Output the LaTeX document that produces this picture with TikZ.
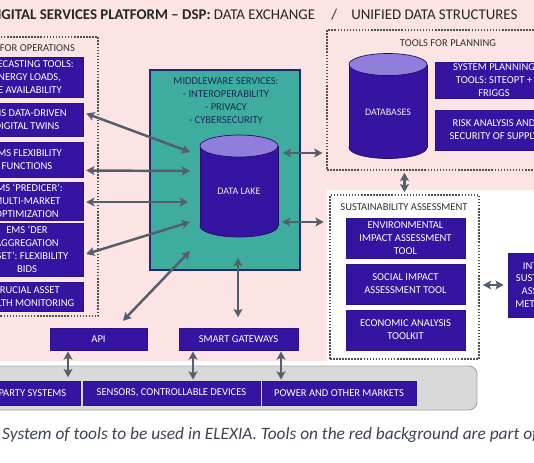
\documentclass[tikz,border=0pt]{standalone}
\usepackage{fontspec}
\setmainfont{Carlito}
\usepackage{tikz}
\usetikzlibrary{positioning,arrows.meta,calc}
\definecolor{boxcol} {RGB}{52,20,160}
\definecolor{cyltop} {RGB}{145,125,220}
\definecolor{cylline}{RGB}{30,15,100}
\definecolor{mwcol}  {RGB}{62,172,158}
\definecolor{mwline} {RGB}{30,40,110}
\definecolor{mwtext} {RGB}{25,45,85}
\definecolor{pinkbg} {RGB}{252,228,228}
\definecolor{arrcol} {RGB}{85,95,105}
\definecolor{dotcol} {RGB}{80,80,80}
\definecolor{bandcol}{RGB}{217,217,217}
\definecolor{captcol}{RGB}{60,68,80}
% cylinder: centre x, top y, bottom y, half width
\newcommand{\storecyl}[4]{%
  \filldraw[fill=boxcol,draw=cylline,line width=0.6pt] (#1,#3) ellipse[x radius=#4,y radius=11];
  \fill[boxcol] ({#1-#4},#2) rectangle ({#1+#4},#3);
  \draw[cylline,line width=0.6pt] ({#1-#4},#2) -- ({#1-#4},#3) ({#1+#4},#2) -- ({#1+#4},#3);
  \filldraw[fill=cyltop,draw=cylline,line width=0.6pt] (#1,#2) ellipse[x radius=#4,y radius=11];
}

\begin{document}
\begin{tikzpicture}[x=0.03cm,y=-0.03cm,
  tbox/.style={rectangle,fill=boxcol,draw=boxcol!85!black,line width=0.4pt,
               text=white,font=\fontsize{9}{11}\selectfont,align=center,inner sep=1pt},
  grp/.style={rectangle,draw=dotcol,line width=1.7pt,dash pattern=on 1.3pt off 1.3pt,
              inner sep=0pt},
  glbl/.style={font=\fontsize{9}{11}\selectfont,text=black!80},
  cyllbl/.style={font=\fontsize{8.5}{10}\selectfont,text=white!85!cyltop},
  arr/.style={{Stealth[length=7pt,width=7.5pt,inset=1.5pt]}-{Stealth[length=7pt,width=7.5pt,inset=1.5pt]},
              line width=2.1pt,arrcol}
]
\useasboundingbox (0,0) rectangle (534,462);
\clip (0,0) rectangle (534,462);
\fill[white] (0,0) rectangle (534,462);
\fill[pinkbg] (0,0) -- (534,0) -- (534,190) -- (327,190) -- (327,361) -- (0,361) -- cycle;

% title
\node[anchor=base west,font=\fontsize{12.7}{15}\selectfont,text=black!85] (title) at (-16,19)
  {\textbf{DIGITAL SERVICES PLATFORM – DSP:} DATA EXCHANGE\hspace{14pt}/\hspace{12pt}UNIFIED DATA STRUCTURES};

% tools for operations
\node[grp,minimum width=3.84cm,minimum height=8.37cm] (opsgrp) at (34,176.5) {};
\node[glbl,anchor=east] (opslbl) at (79,48) {TOOLS FOR OPERATIONS};
\node[tbox,minimum width=3.36cm,minimum height=1.2cm]  (fcst)   at (27,77)    {FORECASTING TOOLS:\\ENERGY LOADS,\\RE AVAILABILITY};
\node[tbox,minimum width=3.36cm,minimum height=0.99cm] (twin)   at (27,119.5) {EMS DATA-DRIVEN\\DIGITAL TWINS};
\node[tbox,minimum width=3.36cm,minimum height=1.05cm] (flex)   at (27,159.5) {EMS FLEXIBILITY\\FUNCTIONS};
\node[tbox,minimum width=3.36cm,minimum height=1.14cm] (pred)   at (27,201)   {EMS ‘PREDICER’:\\MULTI-MARKET\\OPTIMIZATION};
\node[tbox,minimum width=3.36cm,minimum height=1.59cm] (dera)   at (27,249.5) {EMS ‘DER\\AGGREGATION\\ASSET’: FLEXIBILITY\\BIDS};
\node[tbox,minimum width=3.36cm,minimum height=0.87cm] (health) at (27,296.5) {CRUCIAL ASSET\\HEALTH MONITORING};

% middleware and data lake
\node[rectangle,fill=mwcol,draw=mwline,line width=1pt,inner sep=0pt,
      minimum width=4.5cm,minimum height=6cm] (mw) at (225,170) {};
\node[font=\fontsize{9}{11}\selectfont,text=mwtext,align=center] (mwlbl) at (226,100.5)
  {MIDDLEWARE SERVICES:\\- INTEROPERABILITY\\- PRIVACY\\- CYBERSECURITY};
\storecyl{239}{146}{226}{39}
\node[cyllbl] (lake) at (239,191) {DATA LAKE};

% tools for planning
\node[grp,minimum width=6.99cm,minimum height=4.2cm] (plangrp) at (443.5,100) {};
\node[glbl] (planlbl) at (448,43) {TOOLS FOR PLANNING};
\storecyl{388}{64.5}{147.5}{39}
\node[cyllbl] (dbase) at (388,112) {DATABASES};
\node[tbox,minimum width=3.54cm,minimum height=1.08cm] (sysplan) at (494,80)  {SYSTEM PLANNING\\TOOLS: SITEOPT +\\FRIGGS};
\node[tbox,minimum width=3.54cm,minimum height=1.2cm]  (risk)    at (494,130) {RISK ANALYSIS AND\\SECURITY OF SUPPLY};

% sustainability assessment
\node[grp,minimum width=4.47cm,minimum height=4.92cm] (susgrp) at (404.5,277) {};
\node[glbl] (suslbl) at (404,207) {SUSTAINABILITY ASSESSMENT};
\node[tbox,minimum width=3.57cm,minimum height=1.2cm] (envir)  at (405.5,238) {ENVIRONMENTAL\\IMPACT ASSESSMENT\\TOOL};
\node[tbox,minimum width=3.57cm,minimum height=1.2cm] (social) at (405.5,284) {SOCIAL IMPACT\\ASSESSMENT TOOL};
\node[tbox,minimum width=3.57cm,minimum height=1.2cm] (econ)   at (405.5,330) {ECONOMIC ANALYSIS\\TOOLKIT};
\node[tbox,minimum width=2.52cm,minimum height=1.92cm] (intsus) at (550,285)
  {INTEGRATED\\SUSTAINABILITY\\ASSESSMENT\\METHODOLOGY};

% interfaces and outside world
\node[tbox,minimum width=2.91cm,minimum height=0.66cm] (api) at (98.5,339)  {API};
\node[tbox,minimum width=3.57cm,minimum height=0.66cm] (gw)  at (238.5,339) {SMART GATEWAYS};
\draw[fill=bandcol,draw=black!35,line width=0.8pt,rounded corners=7pt] (-10,366) rectangle (477,410);
\node[tbox,minimum width=3.75cm,minimum height=0.72cm] (party)   at (17.5,393)  {THIRD-PARTY SYSTEMS};
\node[tbox,minimum width=5.31cm,minimum height=0.72cm] (sensors) at (171.5,393) {SENSORS, CONTROLLABLE DEVICES};
\node[tbox,minimum width=4.62cm,minimum height=0.72cm] (power)   at (339,393)   {POWER AND OTHER MARKETS};

% arrow ends inside the middleware box
\coordinate (mwin1) at (190,152);
\coordinate (mwin2) at (190,171);
\coordinate (mwin3) at (188,202);
\coordinate (mwin4) at (190,222);
\coordinate (mwin5) at (190,251);
\coordinate (mwout1) at (283,153);
\coordinate (mwout2) at (282,222);
\coordinate (mwout3) at (238,258);
\coordinate (apid) at ($(api.south)+(-30.5,0)$);
\coordinate (gwl)  at ($(gw.south)+(-45.5,0)$);
\coordinate (gwr)  at ($(gw.south)+(42.5,0)$);

\draw[arr] ([shift={(3,-6)}]twin.east) -- (mwin1);
\draw[arr] ([shift={(3,11)}]flex.east) -- (mwin2);
\draw[arr] ([shift={(3,1)}]pred.east) -- (mwin3);
\draw[arr] ([shift={(3,4.5)}]dera.east) -- (mwin4);
\draw[arr] ([shift={(24.5,-7)}]api.north) -- (mwin5);
\draw[arr,shorten >=3pt] (mwout1) -- (mwout1 -| plangrp.west);
\draw[arr,shorten >=4.5pt] (mwout2) -- (mwout2 -| susgrp.west);
\draw[arr,shorten >=9pt] (mwout3) -- (mwout3 |- gw.north);
\draw[arr,shorten <=1.5pt,shorten >=1.5pt] (susgrp.north |- plangrp.south) -- (susgrp.north);
\draw[arr,shorten <=2.5pt,shorten >=3.5pt] (susgrp.east |- intsus.west) -- (intsus.west);
\draw[arr,shorten <=1pt,shorten >=3pt] (apid) -- (apid |- party.north);
\draw[arr,shorten <=1pt,shorten >=1pt] (gwl) -- (gwl |- sensors.north);
\draw[arr,shorten <=1pt,shorten >=1pt] (gwr) -- (gwr |- power.north);

% caption
\node[anchor=base west,font=\fontsize{14.8}{17}\selectfont\itshape,text=captcol] (capt) at (-2,439)
  {System of tools to be used in ELEXIA. Tools on the red background are part of};
\end{tikzpicture}
\end{document}
